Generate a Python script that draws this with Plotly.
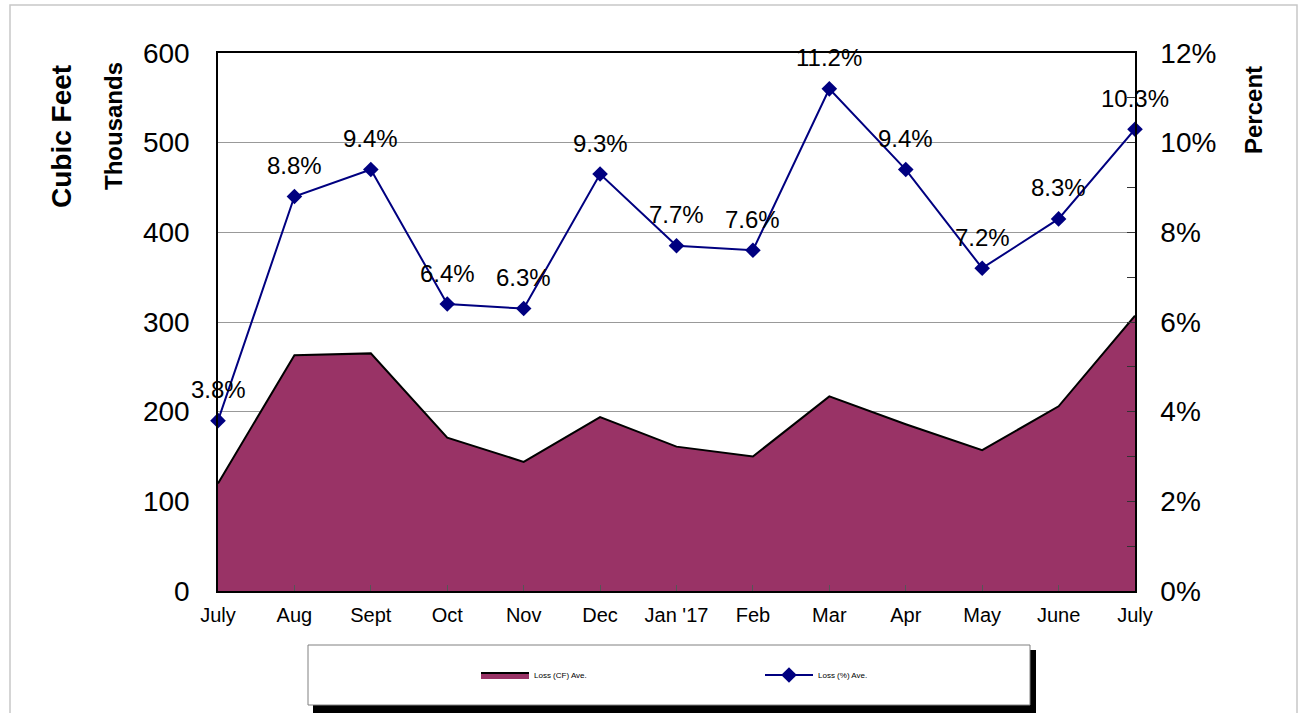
import plotly.graph_objects as go

months = ["July", "Aug", "Sept", "Oct", "Nov", "Dec", "Jan '17", "Feb", "Mar", "Apr", "May", "June", "July"]
loss_cf = [120, 263, 265, 171, 144, 194, 161, 150, 217, 186, 157, 206, 307]
loss_pct = [3.8, 8.8, 9.4, 6.4, 6.3, 9.3, 7.7, 7.6, 11.2, 9.4, 7.2, 8.3, 10.3]
y2_ticks = list(range(0, 13))
y2_text = [f"{v}%" if v % 2 == 0 else "" for v in y2_ticks]

xs = list(range(len(months)))
FONT = "Arial, Liberation Sans, sans-serif"

L, R, T, B = 218, 1135, 53, 591
W, H = R - L, B - T
def px(x): return (x - L) / W
def py(y): return (B - y) / H

fig = go.Figure()
fig.add_trace(go.Scatter(
    x=xs, y=loss_cf, name="Loss (CF) Ave.", mode="lines",
    fill="tozeroy", fillcolor="#993366",
    line=dict(color="black", width=2), yaxis="y", cliponaxis=False))
fig.add_trace(go.Scatter(
    x=xs, y=loss_pct, name="Loss (%) Ave.", mode="lines+markers",
    line=dict(color="#000080", width=2),
    marker=dict(symbol="diamond", size=12, color="#000080"),
    yaxis="y2", cliponaxis=False))

shapes = [
    # outer light border
    dict(type="rect", xref="paper", yref="paper", x0=px(10), x1=px(1297), y0=py(760), y1=py(5),
         line=dict(color="#c8c8c8", width=1.5), layer="below"),
    # legend shadow
    dict(type="rect", xref="paper", yref="paper", x0=px(313), x1=px(1036), y0=py(713), y1=py(650),
         fillcolor="black", line=dict(width=0), layer="above"),
    # legend box
    dict(type="rect", xref="paper", yref="paper", x0=px(308), x1=px(1030), y0=py(705), y1=py(645),
         fillcolor="white", line=dict(color="#808080", width=1), layer="above"),
]

annotations = [
    dict(text="<b>Cubic Feet</b>", x=px(62), y=py(137), xref="paper", yref="paper",
         xanchor="center", yanchor="middle",
         textangle=-90, showarrow=False, font=dict(family=FONT, size=28, color="black")),
    dict(text="<b>Thousands</b>", x=px(113), y=py(126), xref="paper", yref="paper",
         xanchor="center", yanchor="middle",
         textangle=-90, showarrow=False, font=dict(family=FONT, size=24, color="black")),
    dict(text="<b>Percent</b>", x=px(1254), y=py(110), xref="paper", yref="paper",
         xanchor="center", yanchor="middle",
         textangle=-90, showarrow=False, font=dict(family=FONT, size=24, color="black")),
]
for i, v in zip(xs, loss_pct):
    annotations.append(dict(text=f"{v:.1f}%", x=i, y=v, xref="x", yref="y2", yshift=31,
                            showarrow=False, xanchor="center", yanchor="middle",
                            font=dict(family=FONT, size=24, color="black")))

fig.update_layout(
    width=1300, height=713,
    margin=dict(l=L, r=1300 - R, t=T, b=713 - B),
    paper_bgcolor="white", plot_bgcolor="white",
    font=dict(family=FONT, color="black"),
    shapes=shapes, annotations=annotations,
    showlegend=True,
    legend=dict(orientation="h", x=px(476), y=py(675), xanchor="left", yanchor="middle",
                font=dict(family=FONT, size=8), bgcolor="rgba(0,0,0,0)",
                entrywidth=221, entrywidthmode="pixels", itemwidth=48),
    xaxis=dict(range=[0, 12], tickvals=xs, ticktext=months, showgrid=False,
               ticks="inside", ticklen=6, tickcolor="#555", zeroline=False,
               showline=True, linecolor="black", linewidth=1.5, mirror=True,
               tickfont=dict(size=20), ticklabelstandoff=5),
    yaxis=dict(range=[0, 600], dtick=100, showgrid=True, gridcolor="#999999", gridwidth=1,
               zeroline=False, showline=True, linecolor="black", linewidth=1.5,
               ticks="", tickfont=dict(size=28), ticklabelstandoff=21),
    yaxis2=dict(range=[0, 12], overlaying="y", side="right", tickvals=y2_ticks, ticktext=y2_text,
                ticks="inside", ticklen=8, tickcolor="#333", showgrid=False, zeroline=False,
                showline=True, linecolor="black", linewidth=1.5,
                tickfont=dict(size=28), ticklabelstandoff=18),
)

fig.write_html("out.html", post_script="document.body.style.margin='0px';",
               config={"displayModeBar": False})
